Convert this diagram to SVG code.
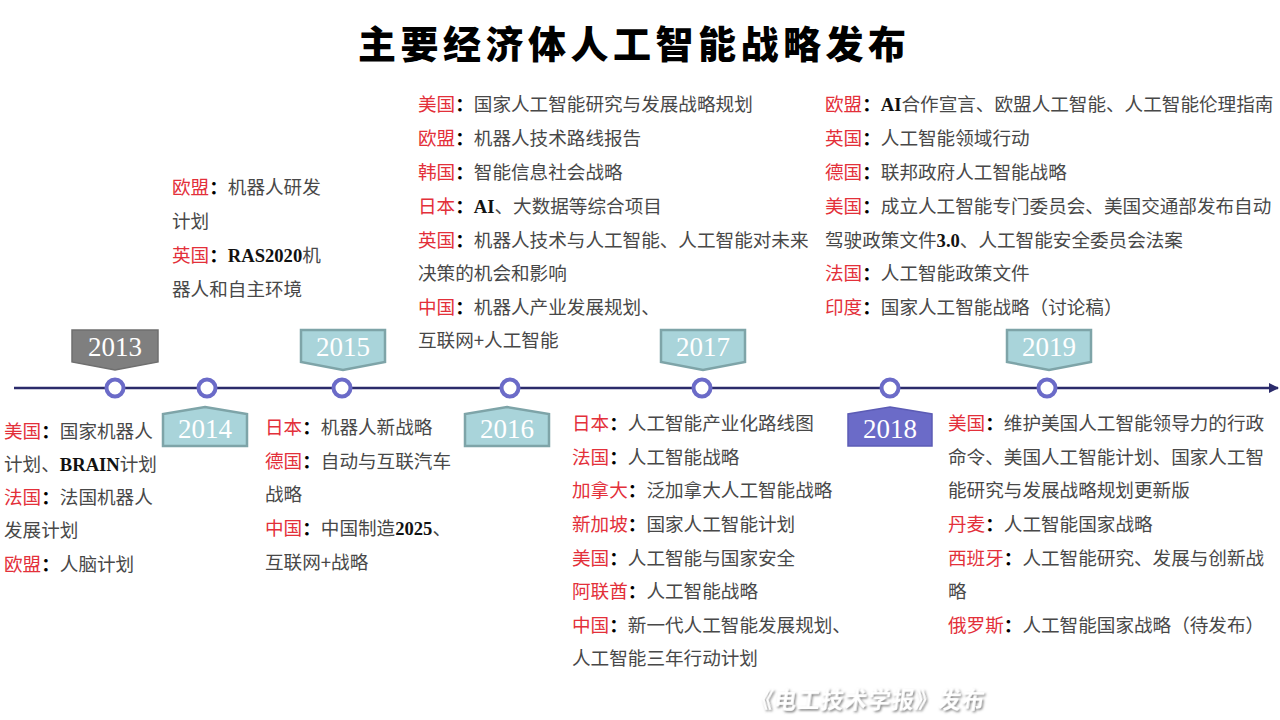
<svg xmlns="http://www.w3.org/2000/svg" width="1280" height="720" viewBox="0 0 1280 720">
<style>
.t{font-family:"Noto Sans CJK SC","Liberation Serif",sans-serif;font-size:18.6px;fill:#484848}
.r{fill:#e3303a}
.c{fill:#000;font-weight:bold}
.l{font-family:"Liberation Serif",serif;font-weight:bold;fill:#111}
.yr{font-family:"Liberation Serif",serif;font-size:27px;fill:#fff;text-anchor:middle}
.box{fill:#a9d4da;stroke:#7ea4a8;stroke-width:2.5}
.gbox{fill:#7f7f7f;stroke:#6f6f6f;stroke-width:1.5}
.pbox{fill:#6b6bc8;stroke:#5c5cb5;stroke-width:1.5}
.dot{fill:#fff;stroke:#6b6bc8;stroke-width:4}
.title{font-family:"Noto Sans CJK SC",sans-serif;font-size:38px;font-weight:900;fill:#000;letter-spacing:4.5px}
.foot{font-family:"Noto Sans CJK SC",sans-serif;font-size:22px;font-weight:bold;fill:#fff;letter-spacing:1.5px}
</style>
<defs>
<marker id="arr" viewBox="0 0 10 10" refX="9" refY="5" markerWidth="4" markerHeight="4" orient="auto" markerUnits="strokeWidth">
<path d="M0,0 L10,5 L0,10 Z" fill="#2b2b6b"/>
</marker>
<filter id="sh" x="-10%" y="-30%" width="120%" height="160%">
<feDropShadow dx="1.5" dy="1.5" stdDeviation="1.2" flood-color="#707070" flood-opacity="0.9"/>
</filter>
</defs>
<rect width="1280" height="720" fill="#fff"/>
<text class="title" x="358" y="58">主要经济体人工智能战略发布</text>

<g id="connectors">
<line x1="14" y1="388" x2="1278" y2="388" stroke="#2b2b6b" stroke-width="2.5" marker-end="url(#arr)"/>
</g>

<g id="y2013">
<polygon class="gbox" points="72,330 158,330 158,362 115,370 72,362"/>
<text class="yr" x="115" y="356">2013</text>
<circle class="dot" cx="115" cy="388" r="8.5"/>
<text class="t" x="4" y="438"><tspan class="r">美国</tspan><tspan class="c">：</tspan>国家机器人</text>
<text class="t" x="4" y="471">计划、<tspan class="l">BRAIN</tspan>计划</text>
<text class="t" x="4" y="504"><tspan class="r">法国</tspan><tspan class="c">：</tspan>法国机器人</text>
<text class="t" x="4" y="537">发展计划</text>
<text class="t" x="4" y="571"><tspan class="r">欧盟</tspan><tspan class="c">：</tspan>人脑计划</text>
</g>

<g id="y2014">
<polygon class="box" points="205,407 247,414 247,446 163,446 163,414"/>
<text class="yr" x="205" y="438">2014</text>
<circle class="dot" cx="207" cy="388" r="8.5"/>
<text class="t" x="172" y="194"><tspan class="r">欧盟</tspan><tspan class="c">：</tspan>机器人研发</text>
<text class="t" x="172" y="228">计划</text>
<text class="t" x="172" y="262"><tspan class="r">英国</tspan><tspan class="c">：</tspan><tspan class="l">RAS2020</tspan>机</text>
<text class="t" x="172" y="296">器人和自主环境</text>
</g>

<g id="y2015">
<polygon class="box" points="301,330 385,330 385,362 343,370 301,362"/>
<text class="yr" x="343" y="356">2015</text>
<circle class="dot" cx="342" cy="388" r="8.5"/>
<text class="t" x="265" y="434"><tspan class="r">日本</tspan><tspan class="c">：</tspan>机器人新战略</text>
<text class="t" x="265" y="468"><tspan class="r">德国</tspan><tspan class="c">：</tspan>自动与互联汽车</text>
<text class="t" x="265" y="501">战略</text>
<text class="t" x="265" y="535"><tspan class="r">中国</tspan><tspan class="c">：</tspan>中国制造<tspan class="l">2025</tspan>、</text>
<text class="t" x="265" y="569">互联网+战略</text>
</g>

<g id="y2016">
<polygon class="box" points="507,407 549,414 549,446 465,446 465,414"/>
<text class="yr" x="507" y="438">2016</text>
<circle class="dot" cx="510" cy="388" r="8.5"/>
<text class="t" x="418" y="111"><tspan class="r">美国</tspan><tspan class="c">：</tspan>国家人工智能研究与发展战略规划</text>
<text class="t" x="418" y="145"><tspan class="r">欧盟</tspan><tspan class="c">：</tspan>机器人技术路线报告</text>
<text class="t" x="418" y="179"><tspan class="r">韩国</tspan><tspan class="c">：</tspan>智能信息社会战略</text>
<text class="t" x="418" y="213"><tspan class="r">日本</tspan><tspan class="c">：</tspan><tspan class="l">AI</tspan>、大数据等综合项目</text>
<text class="t" x="418" y="247"><tspan class="r">英国</tspan><tspan class="c">：</tspan>机器人技术与人工智能、人工智能对未来</text>
<text class="t" x="418" y="280">决策的机会和影响</text>
<text class="t" x="418" y="314"><tspan class="r">中国</tspan><tspan class="c">：</tspan>机器人产业发展规划、</text>
<text class="t" x="418" y="347">互联网+人工智能</text>
</g>

<g id="y2017">
<polygon class="box" points="661,330 745,330 745,362 703,370 661,362"/>
<text class="yr" x="703" y="356">2017</text>
<circle class="dot" cx="702" cy="388" r="8.5"/>
<text class="t" x="572" y="430"><tspan class="r">日本</tspan><tspan class="c">：</tspan>人工智能产业化路线图</text>
<text class="t" x="572" y="464"><tspan class="r">法国</tspan><tspan class="c">：</tspan>人工智能战略</text>
<text class="t" x="572" y="497"><tspan class="r">加拿大</tspan><tspan class="c">：</tspan>泛加拿大人工智能战略</text>
<text class="t" x="572" y="531"><tspan class="r">新加坡</tspan><tspan class="c">：</tspan>国家人工智能计划</text>
<text class="t" x="572" y="565"><tspan class="r">美国</tspan><tspan class="c">：</tspan>人工智能与国家安全</text>
<text class="t" x="572" y="598"><tspan class="r">阿联酋</tspan><tspan class="c">：</tspan>人工智能战略</text>
<text class="t" x="572" y="632"><tspan class="r">中国</tspan><tspan class="c">：</tspan>新一代人工智能发展规划、</text>
<text class="t" x="572" y="665">人工智能三年行动计划</text>
</g>

<g id="y2018">
<polygon class="pbox" points="890,407 932,414 932,446 848,446 848,414"/>
<text class="yr" x="890" y="438">2018</text>
<circle class="dot" cx="890" cy="388" r="8.5"/>
<text class="t" x="825" y="111"><tspan class="r">欧盟</tspan><tspan class="c">：</tspan><tspan class="l">AI</tspan>合作宣言、欧盟人工智能、人工智能伦理指南</text>
<text class="t" x="825" y="145"><tspan class="r">英国</tspan><tspan class="c">：</tspan>人工智能领域行动</text>
<text class="t" x="825" y="179"><tspan class="r">德国</tspan><tspan class="c">：</tspan>联邦政府人工智能战略</text>
<text class="t" x="825" y="213"><tspan class="r">美国</tspan><tspan class="c">：</tspan>成立人工智能专门委员会、美国交通部发布自动</text>
<text class="t" x="825" y="247">驾驶政策文件<tspan class="l">3.0</tspan>、人工智能安全委员会法案</text>
<text class="t" x="825" y="280"><tspan class="r">法国</tspan><tspan class="c">：</tspan>人工智能政策文件</text>
<text class="t" x="825" y="314"><tspan class="r">印度</tspan><tspan class="c">：</tspan>国家人工智能战略（讨论稿）</text>
</g>

<g id="y2019">
<polygon class="box" points="1007,330 1091,330 1091,362 1049,370 1007,362"/>
<text class="yr" x="1049" y="356">2019</text>
<circle class="dot" cx="1047" cy="388" r="8.5"/>
<text class="t" x="948" y="430"><tspan class="r">美国</tspan><tspan class="c">：</tspan>维护美国人工智能领导力的行政</text>
<text class="t" x="948" y="464">命令、美国人工智能计划、国家人工智</text>
<text class="t" x="948" y="497">能研究与发展战略规划更新版</text>
<text class="t" x="948" y="531"><tspan class="r">丹麦</tspan><tspan class="c">：</tspan>人工智能国家战略</text>
<text class="t" x="948" y="565"><tspan class="r">西班牙</tspan><tspan class="c">：</tspan>人工智能研究、发展与创新战</text>
<text class="t" x="948" y="598">略</text>
<text class="t" x="948" y="632"><tspan class="r">俄罗斯</tspan><tspan class="c">：</tspan>人工智能国家战略（待发布）</text>
</g>

<text class="foot" x="750" y="708" filter="url(#sh)" transform="translate(99.5,0) skewX(-8)">《电工技术学报》发布</text>
</svg>
